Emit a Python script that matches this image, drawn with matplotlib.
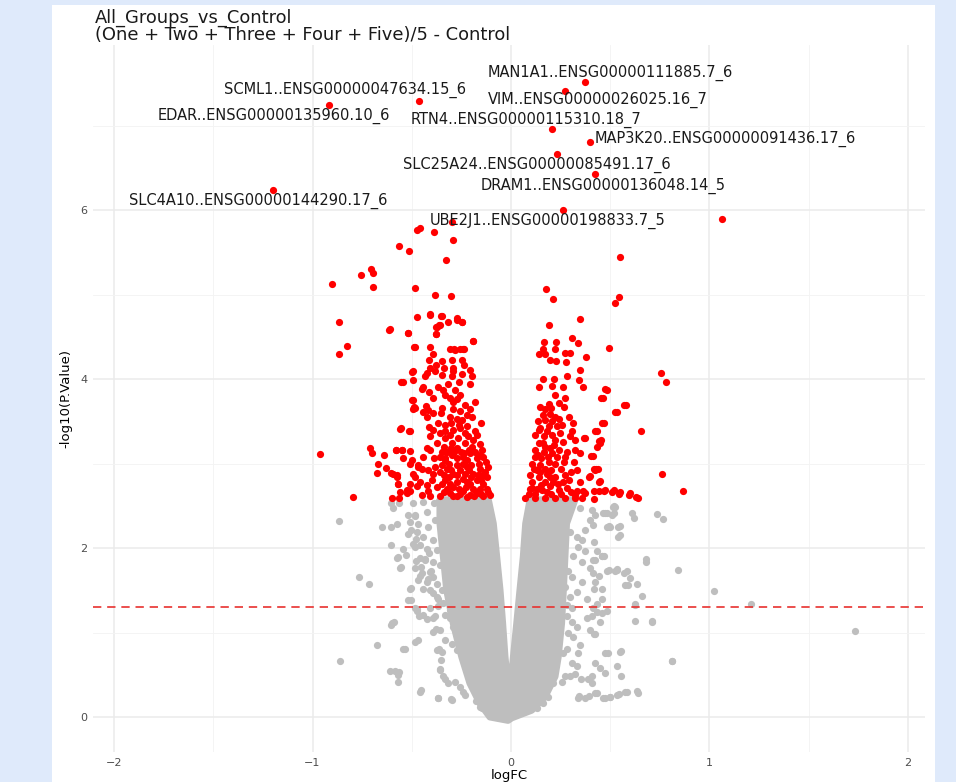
import matplotlib.pyplot as plt
from matplotlib.patches import Rectangle, Polygon

# labelled genes: logFC, -log10(P.Value) and where the label text sits
gene_names = ["MAN1A1..ENSG00000111885.7_6", "VIM..ENSG00000026025.16_7",
              "SCML1..ENSG00000047634.15_6", "EDAR..ENSG00000135960.10_6",
              "RTN4..ENSG00000115310.18_7", "MAP3K20..ENSG00000091436.17_6",
              "SLC25A24..ENSG00000085491.17_6", "DRAM1..ENSG00000136048.14_5",
              "SLC4A10..ENSG00000144290.17_6", "UBE2J1..ENSG00000198833.7_5"]
gene_fc = [0.373, 0.272, -0.463, -0.917, 0.207, 0.398, 0.232, 0.423, -1.199, 0.262]
gene_p = [7.51, 7.41, 7.29, 7.24, 6.96, 6.80, 6.66, 6.43, 6.24, 6.00]
label_fc = [-0.116, -0.116, -1.446, -1.778, -0.504, 0.423, -0.544, -0.151, -1.924, -0.408]
label_p = [7.62, 7.30, 7.42, 7.11, 7.07, 6.84, 6.53, 6.28, 6.11, 5.87]

# significant genes (red)
red_points = [
    (1.063, 5.89), (-0.297, 5.86), (-0.475, 5.76), (-0.458, 5.79), (-0.39, 5.74),
    (-0.29, 5.65), (-0.563, 5.58), (-0.514, 5.51), (-0.325, 5.41), (-0.707, 5.30),
    (-0.695, 5.26), (-0.756, 5.23), (-0.902, 5.13), (-0.697, 5.09), (-0.485, 5.08),
    (-0.381, 5.00), (-0.303, 4.98), (-0.868, 4.67), (-0.615, 4.58), (-0.476, 4.73),
    (-0.407, 4.76), (-0.349, 4.74), (-0.271, 4.70), (-0.246, 4.67), (-0.373, 4.61),
    (-0.359, 4.64), (-0.52, 4.54), (-0.38, 4.53), (-0.825, 4.39), (-0.868, 4.30),
    (-0.485, 4.38), (-0.19, 4.45), (-0.407, 4.38), (-0.305, 4.36), (-0.285, 4.36),
    (-0.237, 4.36), (-0.964, 3.11), (-0.797, 2.60),
    (-0.408, 4.77), (-0.352, 4.75), (-0.273, 4.72), (-0.248, 4.67), (-0.319, 4.67),
    (-0.362, 4.64), (-0.377, 4.61), (-0.379, 4.53), (-0.518, 4.54), (-0.609, 4.59),
    (-0.193, 4.45), (-0.487, 4.38), (-0.282, 4.34), (-0.256, 4.35), (-0.24, 4.36),
    (-0.394, 4.30), (-0.413, 4.22), (-0.349, 4.21), (-0.295, 4.22), (-0.248, 4.22),
    (-0.236, 4.17), (-0.377, 4.17), (-0.408, 4.13), (-0.34, 4.13), (-0.382, 4.10),
    (-0.29, 4.13), (-0.29, 4.09), (-0.495, 4.09), (-0.492, 3.99), (-0.542, 3.97),
    (-0.433, 4.03), (-0.424, 4.07), (-0.248, 4.06), (-0.206, 4.11), (-0.194, 4.03),
    (-0.349, 4.05), (-0.298, 4.03), (-0.445, 3.91), (-0.45, 3.88), (-0.366, 3.90),
    (-0.344, 3.87), (-0.332, 3.81), (-0.307, 3.78), (-0.282, 3.87), (-0.256, 3.81),
    (-0.27, 3.76), (-0.411, 3.85), (-0.391, 3.77), (-0.209, 3.94), (-0.5, 3.75),
    (-0.488, 3.67), (-0.492, 3.64), (-0.428, 3.68), (-0.416, 3.63), (-0.349, 3.66),
    (-0.293, 3.65), (-0.29, 3.73), (-0.231, 3.69), (-0.206, 3.65), (-0.181, 3.73),
    (-0.441, 3.61), (-0.421, 3.55), (-0.394, 3.60), (-0.307, 3.55), (-0.273, 3.53),
    (-0.248, 3.51), (-0.198, 3.55), (-0.223, 3.57), (-0.152, 3.48), (-0.554, 3.42),
    (-0.512, 3.38), (-0.411, 3.43), (-0.391, 3.40), (-0.408, 3.32), (-0.357, 3.36),
    (-0.332, 3.38), (-0.307, 3.34), (-0.29, 3.40), (-0.256, 3.42), (-0.223, 3.44),
    (-0.181, 3.38), (-0.215, 3.32), (-0.169, 3.34), (-0.374, 3.24), (-0.34, 3.20),
    (-0.298, 3.24), (-0.273, 3.18), (-0.231, 3.24), (-0.198, 3.20), (-0.156, 3.23),
    (-0.579, 3.16), (-0.55, 3.16), (-0.508, 3.15), (-0.424, 3.18), (-0.408, 3.16),
    (-0.441, 3.08), (-0.542, 3.06), (-0.508, 3.00), (-0.357, 3.08), (-0.332, 3.04),
    (-0.298, 3.10), (-0.273, 3.06), (-0.24, 3.08), (-0.206, 3.12), (-0.173, 3.06),
    (-0.139, 3.08), (-0.466, 2.98), (-0.45, 2.94), (-0.592, 2.88), (-0.575, 2.84),
    (-0.492, 2.88), (-0.483, 2.84), (-0.391, 2.88), (-0.399, 2.80), (-0.324, 2.94),
    (-0.29, 2.88), (-0.256, 2.92), (-0.223, 2.96), (-0.189, 2.88), (-0.156, 2.94),
    (-0.114, 2.96), (-0.332, 2.80), (-0.307, 2.76), (-0.273, 2.78), (-0.24, 2.82),
    (-0.206, 2.76), (-0.173, 2.80), (-0.139, 2.76), (-0.122, 2.84), (-0.567, 2.76),
    (-0.508, 2.76), (-0.475, 2.73), (-0.424, 2.74), (-0.374, 2.72), (-0.559, 2.66),
    (-0.525, 2.65), (-0.45, 2.63), (-0.408, 2.61), (-0.357, 2.62), (-0.307, 2.65),
    (-0.273, 2.61), (-0.24, 2.67), (-0.206, 2.63), (-0.173, 2.65), (-0.139, 2.61),
    (-0.105, 2.63), (-0.708, 3.18), (-0.698, 3.12), (-0.669, 2.99), (-0.674, 2.89),
    (-0.631, 2.95), (-0.607, 2.89), (-0.576, 2.86), (-0.58, 3.16), (-0.551, 3.16),
    (-0.568, 2.76), (-0.525, 2.69), (-0.508, 2.68), (-0.597, 2.59), (-0.564, 2.59),
    (-0.641, 3.10), (-0.498, 3.04), (-0.466, 2.96), (-0.559, 3.41), (-0.508, 3.39),
    (-0.5, 4.08), (-0.554, 3.96), (-0.492, 3.75), (-0.483, 3.66),
    (-0.32, 2.70), (-0.29, 2.72), (-0.26, 2.70), (-0.225, 2.72), (-0.19, 2.70),
    (-0.155, 2.70), (-0.12, 2.70), (-0.34, 2.86), (-0.31, 2.84), (-0.27, 2.86),
    (-0.23, 2.88), (-0.2, 2.84), (-0.165, 2.86), (-0.13, 2.90), (-0.35, 2.98),
    (-0.31, 3.00), (-0.27, 2.98), (-0.24, 3.00), (-0.2, 2.98), (-0.16, 3.00),
    (-0.125, 3.02), (-0.32, 3.14), (-0.285, 3.14), (-0.25, 3.14), (-0.21, 3.16),
    (-0.18, 3.14), (-0.145, 3.16), (-0.33, 3.30), (-0.265, 3.30), (-0.23, 3.36),
    (-0.19, 3.28), (-0.37, 3.48), (-0.33, 3.46), (-0.3, 3.48), (-0.26, 3.46),
    (-0.355, 3.60), (-0.255, 3.62), (-0.315, 3.94), (-0.26, 3.96), (-0.42, 2.68),
    (-0.46, 2.78), (-0.385, 2.96), (-0.42, 2.92), (-0.39, 3.06),
    (-0.335, 2.66), (-0.29, 2.62), (-0.255, 2.64), (-0.22, 2.60), (-0.185, 2.62),
    (-0.15, 2.64), (-0.115, 2.66), (-0.35, 2.76), (-0.22, 2.78), (-0.15, 2.80),
    (-0.36, 2.90), (-0.3, 2.92), (-0.21, 2.92), (-0.14, 2.86), (-0.33, 3.06),
    (-0.22, 3.04), (-0.155, 3.10), (-0.3, 3.18), (-0.235, 3.12), (-0.35, 3.14),
    (0.176, 5.06), (0.21, 4.95), (0.542, 4.97), (0.526, 4.90), (0.19, 4.64),
    (0.349, 4.71), (0.165, 4.44), (0.228, 4.44), (0.307, 4.49), (0.336, 4.43),
    (0.161, 4.36), (0.22, 4.36), (0.139, 4.30), (0.173, 4.30), (0.274, 4.31),
    (0.299, 4.31), (0.378, 4.26), (0.492, 4.37), (0.198, 4.22), (0.227, 4.21),
    (0.279, 4.20), (0.349, 4.11), (0.282, 4.04), (0.159, 4.00), (0.215, 4.00),
    (0.341, 3.99), (0.143, 3.91), (0.207, 3.92), (0.26, 3.91), (0.361, 3.91),
    (0.475, 3.88), (0.223, 3.81), (0.455, 3.77), (0.27, 3.77), (0.19, 3.71),
    (0.173, 3.65), (0.148, 3.67), (0.269, 3.67), (0.568, 3.69), (0.522, 3.61),
    (0.198, 3.59), (0.223, 3.55), (0.173, 3.51), (0.207, 3.50), (0.24, 3.53),
    (0.29, 3.55), (0.148, 3.42), (0.19, 3.44), (0.232, 3.44), (0.257, 3.46),
    (0.311, 3.48), (0.458, 3.48), (0.119, 3.34), (0.165, 3.32), (0.207, 3.34),
    (0.249, 3.36), (0.307, 3.38), (0.299, 3.32), (0.421, 3.38), (0.366, 3.30),
    (0.324, 3.28), (0.442, 3.27), (0.433, 3.20), (0.139, 3.24), (0.173, 3.20),
    (0.215, 3.22), (0.123, 3.16), (0.165, 3.14), (0.207, 3.12), (0.24, 3.16),
    (0.282, 3.14), (0.324, 3.16), (0.349, 3.12), (0.405, 3.09), (0.106, 3.00),
    (0.148, 2.98), (0.19, 3.02), (0.223, 3.00), (0.265, 3.02), (0.316, 3.02),
    (0.416, 2.94), (0.425, 2.92), (0.333, 2.92), (0.097, 2.86), (0.139, 2.84),
    (0.181, 2.88), (0.223, 2.84), (0.274, 2.86), (0.391, 2.84), (0.29, 2.80),
    (0.442, 2.78), (0.106, 2.71), (0.156, 2.69), (0.198, 2.73), (0.24, 2.69),
    (0.282, 2.71), (0.333, 2.67), (0.374, 2.65), (0.417, 2.67), (0.467, 2.68),
    (0.509, 2.66), (0.542, 2.64), (0.593, 2.63), (0.072, 2.59), (0.123, 2.59),
    (0.173, 2.59), (0.223, 2.59), (0.274, 2.59), (0.324, 2.59), (0.358, 2.59),
    (0.551, 5.45), (0.757, 4.07), (0.779, 3.97), (0.485, 3.87), (0.465, 3.77),
    (0.534, 3.61), (0.577, 3.69), (0.47, 3.48), (0.653, 3.38), (0.433, 3.38),
    (0.455, 3.28), (0.446, 3.24), (0.374, 3.30), (0.411, 3.09), (0.428, 2.94),
    (0.438, 2.94), (0.759, 2.88), (0.399, 2.85), (0.45, 2.79), (0.866, 2.68),
    (0.517, 2.69), (0.547, 2.66), (0.601, 2.65), (0.63, 2.60), (0.64, 2.59),
    (0.419, 2.58), (0.475, 2.69), (0.441, 2.68), (0.361, 2.68), (0.324, 2.63),
    (0.12, 2.64), (0.15, 2.75), (0.18, 2.66), (0.21, 2.78), (0.25, 2.64),
    (0.3, 2.66), (0.13, 2.92), (0.17, 2.94), (0.2, 2.92), (0.25, 2.94),
    (0.12, 3.08), (0.15, 3.06), (0.185, 3.08), (0.23, 3.08), (0.27, 3.08),
    (0.14, 3.4), (0.18, 3.38), (0.22, 3.28), (0.26, 3.26), (0.2, 3.66),
    (0.24, 3.72), (0.095, 2.7), (0.09, 2.64), (0.35, 2.78), (0.26, 2.78),
    (0.105, 2.78), (0.13, 2.70), (0.17, 2.78), (0.2, 2.64), (0.235, 2.76),
    (0.145, 2.90), (0.115, 2.94), (0.195, 2.84), (0.3, 2.90), (0.135, 3.10),
    (0.16, 3.24), (0.195, 3.18), (0.135, 3.50), (0.16, 3.58),
]

# non-significant genes (grey) around the dense cloud
grey_points = [
    (-0.865, 2.32), (-0.649, 2.25), (-0.607, 2.25), (-0.573, 2.28), (-0.604, 2.03),
    (-0.764, 1.66), (-0.713, 1.57), (-0.57, 1.89), (-0.556, 1.77), (-0.528, 1.92),
    (-0.607, 1.09), (-0.59, 1.13), (-0.675, 0.85), (-0.86, 0.66), (-0.612, 0.55),
    (-0.562, 0.53), (-0.57, 0.42), (-0.533, 0.81), (-0.469, 0.91), (-0.455, 0.32),
    (-0.503, 1.53), (-0.506, 1.39), (-0.472, 1.28), (-0.465, 1.19), (-0.604, 2.53),
    (-0.562, 2.53), (-0.595, 2.47), (-0.519, 2.39), (-0.486, 2.38), (-0.503, 2.21),
    (-0.477, 2.11), (-0.46, 2.03), (-0.477, 1.85), (-0.452, 1.77), (-0.46, 1.67),
    (-0.368, 0.22), (-0.304, 0.21), (-0.36, 0.57), (-0.334, 0.45), (-0.415, 1.94),
    (-0.435, 1.87), (-0.401, 1.73), (-0.418, 1.63), (-0.393, 1.47), (-0.368, 1.40),
    (-0.384, 1.20), (-0.376, 1.04), (-0.364, 0.80), (-0.351, 0.68), (-0.233, 0.26),
    (-0.174, 0.19), (-0.148, 0.11),
    (-0.492, 2.53), (-0.442, 2.55), (-0.39, 2.53), (-0.366, 2.54), (-0.484, 2.39),
    (-0.425, 2.43), (-0.508, 2.31), (-0.467, 2.29), (-0.416, 2.25), (-0.383, 2.33),
    (-0.517, 2.17), (-0.475, 2.19), (-0.442, 2.13), (-0.391, 2.09), (-0.492, 2.05),
    (-0.484, 2.01), (-0.542, 1.99), (-0.425, 1.99), (-0.374, 1.98), (-0.458, 1.88),
    (-0.433, 1.86), (-0.576, 1.88), (-0.391, 1.84), (-0.358, 1.80), (-0.484, 1.76),
    (-0.45, 1.70), (-0.408, 1.72), (-0.391, 1.66), (-0.559, 1.76), (-0.467, 1.62),
    (-0.425, 1.60), (-0.374, 1.58), (-0.508, 1.52), (-0.441, 1.52), (-0.408, 1.50),
    (-0.349, 1.50), (-0.517, 1.38), (-0.374, 1.42), (-0.484, 1.29), (-0.475, 1.25),
    (-0.408, 1.29), (-0.366, 1.31), (-0.341, 1.35), (-0.307, 1.27), (-0.441, 1.21),
    (-0.425, 1.16), (-0.391, 1.17), (-0.332, 1.21), (-0.307, 1.17), (-0.29, 1.07),
    (-0.601, 1.11), (-0.391, 1.01), (-0.358, 1.03), (-0.484, 0.89), (-0.332, 0.91),
    (-0.298, 0.87), (-0.542, 0.80), (-0.374, 0.79), (-0.349, 0.77), (-0.273, 0.79),
    (-0.358, 0.56), (-0.341, 0.48), (-0.315, 0.40), (-0.282, 0.42), (-0.256, 0.36),
    (-0.24, 0.30), (-0.584, 0.54), (-0.567, 0.50), (-0.458, 0.30), (-0.366, 0.22),
    (-0.298, 0.20), (-0.156, 0.12),
    (0.734, 2.40), (0.767, 2.34), (0.619, 2.36), (0.61, 2.42), (0.518, 2.50),
    (0.484, 2.42), (0.492, 2.26), (0.551, 2.26), (0.551, 2.15), (0.417, 2.07),
    (0.433, 1.97), (0.467, 1.91), (0.678, 1.87), (0.678, 1.84), (0.843, 1.74),
    (0.535, 1.75), (0.585, 1.73), (0.602, 1.65), (0.636, 1.58), (0.59, 1.56),
    (0.661, 1.43), (0.627, 1.34), (0.624, 1.14), (0.712, 1.14), (0.442, 1.67),
    (0.417, 1.51), (0.459, 1.40), (0.433, 1.24), (0.45, 1.12), (0.417, 0.98),
    (0.489, 0.76), (0.556, 0.78), (0.535, 0.60), (0.556, 0.49), (0.809, 0.66),
    (0.45, 0.58), (0.408, 0.49), (0.388, 0.45), (0.636, 0.31), (0.585, 0.30),
    (0.543, 0.27), (0.501, 0.24), (0.472, 0.22), (0.433, 0.28), (0.391, 0.25),
    (0.341, 0.25), (0.354, 0.45), (0.324, 0.51), (0.298, 0.49), (1.022, 1.49),
    (1.207, 1.34), (1.734, 1.02), (0.525, 2.49), (0.475, 2.41), (0.517, 2.41),
    (0.497, 2.25), (0.461, 1.90), (0.424, 1.86), (0.492, 1.74), (0.534, 1.74),
    (0.623, 1.33), (0.713, 1.13), (0.64, 0.29), (0.812, 0.66),
    (0.272, 2.51), (0.306, 2.53), (0.348, 2.47), (0.406, 2.45), (0.423, 2.39),
    (0.465, 2.41), (0.507, 2.39), (0.515, 2.49), (0.398, 2.33), (0.415, 2.27),
    (0.373, 2.21), (0.482, 2.25), (0.54, 2.25), (0.54, 2.13), (0.297, 2.19),
    (0.331, 2.13), (0.356, 2.09), (0.339, 2.01), (0.373, 1.96), (0.314, 1.90),
    (0.356, 1.84), (0.415, 1.86), (0.457, 1.90), (0.398, 1.76), (0.415, 1.70),
    (0.482, 1.73), (0.524, 1.73), (0.571, 1.71), (0.574, 1.56), (0.289, 1.73),
    (0.306, 1.66), (0.356, 1.60), (0.423, 1.60), (0.457, 1.51), (0.272, 1.54),
    (0.297, 1.42), (0.331, 1.48), (0.381, 1.40), (0.432, 1.34), (0.28, 1.32),
    (0.306, 1.29), (0.415, 1.29), (0.457, 1.23), (0.482, 1.25), (0.28, 1.19),
    (0.306, 1.13), (0.331, 1.07), (0.381, 1.17), (0.406, 1.19), (0.289, 0.99),
    (0.314, 0.95), (0.398, 1.03), (0.423, 0.98), (0.348, 0.85), (0.339, 0.76),
    (0.28, 0.81), (0.264, 0.76), (0.306, 0.64), (0.331, 0.60), (0.423, 0.64),
    (0.473, 0.76), (0.549, 0.77), (0.473, 0.52), (0.272, 0.48), (0.255, 0.42),
    (0.213, 0.40), (0.339, 0.22), (0.373, 0.23), (0.423, 0.28), (0.465, 0.22),
    (0.499, 0.24), (0.532, 0.26), (0.574, 0.30), (0.188, 0.24), (0.163, 0.16),
    (0.129, 0.11), (0.406, 0.40),
]

# outline of the dense grey cloud (logFC, -log10 p)
core_fc = [-0.358, -0.358, -0.341, -0.324, -0.291, -0.248, -0.207, -0.156, -0.106,
           -0.015, 0.004, 0.104, 0.171, 0.222, 0.238, 0.255, 0.264, 0.272, 0.28,
           0.322, 0.096, 0.074, 0.062, 0.045, 0.029, 0.012, -0.005, -0.013, -0.030,
           -0.042, -0.055, -0.072, -0.089, -0.114]
core_p = [2.57, 2.29, 1.90, 1.50, 1.11, 0.71, 0.40, 0.16, 0.00,
          -0.04, -0.01, 0.08, 0.24, 0.48, 0.71, 1.11, 1.50, 1.90, 2.29,
          2.57, 2.57, 2.29, 1.90, 1.50, 1.11, 0.71, 0.27, 0.32, 0.71,
          1.11, 1.50, 1.90, 2.29, 2.57]

p_cut = 1.301  # -log10(0.05)

fig = plt.figure(figsize=(9.56, 7.82), dpi=100)
fig.patch.set_facecolor("#dfeafb")
fig.patches.append(Rectangle((52 / 956, 0), 883 / 956, 1 - 5 / 782,
                             transform=fig.transFigure, facecolor="white",
                             edgecolor="none", zorder=-5))
ax = fig.add_axes([93 / 956, 30 / 782, 832 / 956, 707 / 782])
ax.set_facecolor("none")

ax.set_xlim(-2.106, 2.086)
ax.set_ylim(-0.414, 7.953)
ax.set_xticks([-2, -1, 0, 1, 2])
ax.set_yticks([0, 2, 4, 6])
ax.set_xticks([-1.5, -0.5, 0.5, 1.5], minor=True)
ax.set_yticks([1, 3, 5, 7], minor=True)
ax.grid(True, which="major", color="#ebebeb", lw=1.1)
ax.grid(True, which="minor", color="#f3f3f3", lw=0.6)
ax.set_axisbelow(True)
for s in ax.spines.values():
    s.set_visible(False)
ax.tick_params(which="both", length=0, labelsize=8, labelcolor="#4d4d4d", pad=4)

grey = "#bebebe"
core = list(zip(core_fc, core_p))
ax.add_patch(Polygon(core, closed=True, facecolor=grey, edgecolor=grey,
                     lw=5, joinstyle="round", zorder=2))
ax.scatter([p[0] for p in grey_points], [p[1] for p in grey_points],
           s=27, color=grey, lw=0, zorder=2)
ax.scatter([p[0] for p in red_points] + gene_fc,
           [p[1] for p in red_points] + gene_p,
           s=27, color="red", lw=0, zorder=3)

ax.axhline(p_cut, color="#e8312f", lw=1.2, ls=(0, (5, 3.5)), zorder=4)

for name, lx, ly in zip(gene_names, label_fc, label_p):
    ax.text(lx, ly, name, ha="left", va="center", fontsize=10.5, color="#1a1a1a",
            zorder=5)

ax.set_xlabel("logFC", fontsize=9.5, labelpad=1)
ax.set_ylabel("-log10(P.Value)", fontsize=9.5, labelpad=6)

fig.text(95 / 956, 1 - 9 / 782, "All_Groups_vs_Control\n(One + Two + Three + Four + Five)/5 - Control",
         ha="left", va="top", fontsize=12.9, linespacing=0.92, color="#1a1a1a")

fig.savefig("out.png", dpi=100, facecolor=fig.get_facecolor())
